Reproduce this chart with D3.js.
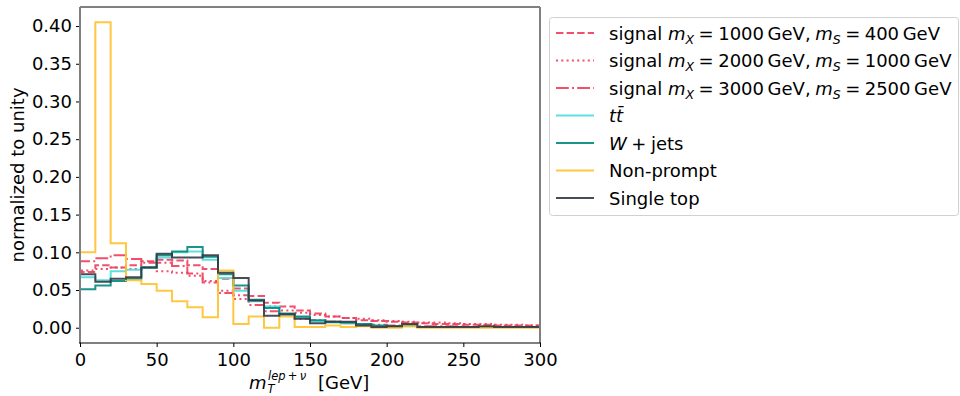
<!DOCTYPE html>
<html>
<head>
<meta charset="utf-8">
<script src="https://cdn.jsdelivr.net/npm/d3@7"></script>
<style>
  body { margin: 0; background: #fff; }
  svg { font-family: "DejaVu Sans", sans-serif; }
</style>
</head>
<body>
<div id="chart"></div>
<script>
(function () {

    "use strict";

    // bin edges (GeV), 10 GeV wide
    var binEdges = d3.range(0, 310, 10);

    var sig1000 = [0.074, 0.083, 0.080, 0.083, 0.088, 0.090, 0.089, 0.083, 0.078, 0.065,
                   0.052, 0.042, 0.033, 0.028, 0.023, 0.019, 0.015, 0.013, 0.010, 0.009,
                   0.008, 0.007, 0.006, 0.005, 0.005, 0.004, 0.004, 0.003, 0.003, 0.003];
    var sig2000 = [0.076, 0.078, 0.080, 0.078, 0.080, 0.075, 0.073, 0.069, 0.062, 0.049,
                   0.038, 0.036, 0.028, 0.023, 0.020, 0.017, 0.015, 0.013, 0.012, 0.010,
                   0.009, 0.008, 0.007, 0.007, 0.006, 0.005, 0.005, 0.004, 0.004, 0.003];
    var sig3000 = [0.088, 0.092, 0.096, 0.091, 0.086, 0.086, 0.082, 0.072, 0.060, 0.046,
                   0.043, 0.030, 0.022, 0.018, 0.012, 0.010, 0.008, 0.006, 0.005, 0.004,
                   0.003, 0.003, 0.002, 0.002, 0.002, 0.001, 0.001, 0.001, 0.001, 0.001];
    var ttbar   = [0.067, 0.063, 0.075, 0.077, 0.080, 0.093, 0.100, 0.101, 0.090, 0.066,
                   0.049, 0.035, 0.028, 0.017, 0.014, 0.009, 0.007, 0.006, 0.004, 0.002,
                   0.002, 0.002, 0.001, 0.001, 0.001, 0.001, 0.001, 0.001, 0.001, 0.001];
    var wjets   = [0.051, 0.056, 0.062, 0.065, 0.080, 0.096, 0.101, 0.107, 0.094, 0.071,
                   0.056, 0.037, 0.026, 0.019, 0.015, 0.010, 0.008, 0.007, 0.005, 0.003,
                   0.002, 0.003, 0.001, 0.001, 0.001, 0.001, 0.001, 0.001, 0.001, 0.001];
    var nonprompt = [0.100, 0.405, 0.112, 0.063, 0.058, 0.049, 0.035, 0.027, 0.014, 0.076,
                     0.005, 0.015, 0.000, 0.015, 0.001, 0.001, 0.003, 0.001, 0.002, 0.000,
                     0.000, 0.002, 0.000, 0.000, 0.000, 0.000, 0.000, 0.000, 0.000, 0.000];
    var singletop = [0.071, 0.061, 0.065, 0.067, 0.080, 0.098, 0.093, 0.093, 0.096, 0.073,
                     0.066, 0.036, 0.016, 0.018, 0.012, 0.006, 0.008, 0.008, 0.003, 0.001,
                     0.002, 0.005, 0.001, 0.001, 0.001, 0.001, 0.002, 0.001, 0.001, 0.001];

    var xTicks = [0, 50, 100, 150, 200, 250, 300];
    var yTicks = [0, 0.05, 0.10, 0.15, 0.20, 0.25, 0.30, 0.35, 0.40];

    var red = "#f03c5c";
    var series = [
        {name: "sig1000", values: sig1000, color: red, dash: "7.4,3.2", mx: "1000", ms: "400"},
        {name: "sig2000", values: sig2000, color: red, dash: "2,3.3", mx: "2000", ms: "1000"},
        {name: "sig3000", values: sig3000, color: red, dash: "12.8,3.2,2,3.2", mx: "3000", ms: "2500"},
        {name: "ttbar", values: ttbar, color: "#4fdcdc"},
        {name: "wjets", values: wjets, color: "#00897f"},
        {name: "nonprompt", values: nonprompt, color: "#ffc12e"},
        {name: "singletop", values: singletop, color: "#333a44"}
    ];

    var W = 960, H = 396,
        left = 80, right = 540, top = 7, bottom = 343;

    var svg = d3.select("#chart").append("svg")
        .attr("width", W)
        .attr("height", H);

    var x = d3.scaleLinear().domain([0, 300]).range([left, right]);
    var y = d3.scaleLinear().domain([-0.02025, 0.42525]).range([bottom, top]);

    svg.append("clipPath").attr("id", "plotclip")
        .append("rect")
        .attr("x", left).attr("y", top)
        .attr("width", right - left).attr("height", bottom - top);

    var line = d3.line()
        .x(function (d) { return x(d[0]); })
        .y(function (d) { return y(d[1]); })
        .curve(d3.curveStepAfter);

    function stepPoints(values) {
        var pts = [[binEdges[0], 0]];
        values.forEach(function (v, i) { pts.push([binEdges[i], v]); });
        pts.push([binEdges[binEdges.length - 1], values[values.length - 1]]);
        pts.push([binEdges[binEdges.length - 1], 0]);
        return pts;
    }

    svg.append("g")
        .attr("clip-path", "url(#plotclip)")
        .selectAll("path")
        .data(series)
        .enter()
        .append("path")
        .attr("d", function (d) { return line(stepPoints(d.values)); })
        .attr("fill", "none")
        .attr("stroke", function (d) { return d.color; })
        .attr("stroke-width", 2)
        .attr("stroke-opacity", 0.9)
        .attr("stroke-dasharray", function (d) { return d.dash || null; });

    // axes
    var xAxis = svg.append("g")
        .attr("transform", "translate(0," + bottom + ")")
        .call(d3.axisBottom(x).tickValues(xTicks).tickSize(4).tickPadding(3).tickFormat(d3.format("d")));
    var yAxis = svg.append("g")
        .attr("transform", "translate(" + left + ",0)")
        .call(d3.axisLeft(y).tickValues(yTicks).tickSize(4).tickPadding(4).tickFormat(d3.format(".2f")));

    [xAxis, yAxis].forEach(function (a) {
        a.select(".domain").remove();
        a.selectAll("text")
            .attr("font-family", "DejaVu Sans, sans-serif")
            .attr("font-size", 18)
            .attr("fill", "#000");
        a.selectAll("line").attr("stroke", "#000").attr("stroke-width", 1);
    });
    xAxis.selectAll("text").attr("dy", "0.9em");

    // spines
    var spines = svg.append("g").attr("fill", "none");
    spines.append("line").attr("x1", left).attr("x2", left).attr("y1", top).attr("y2", bottom)
        .attr("stroke", "#808080").attr("stroke-width", 2);
    spines.append("line").attr("x1", right).attr("x2", right).attr("y1", top).attr("y2", bottom)
        .attr("stroke", "#808080").attr("stroke-width", 2);
    spines.append("line").attr("x1", left).attr("x2", right).attr("y1", top).attr("y2", top)
        .attr("stroke", "#808080").attr("stroke-width", 2);
    spines.append("line").attr("x1", left - 1).attr("x2", right + 1).attr("y1", bottom).attr("y2", bottom)
        .attr("stroke", "#000").attr("stroke-width", 1.2);

    // y label
    svg.append("text")
        .attr("transform", "translate(24," + ((top + bottom) / 2) + ") rotate(-90)")
        .attr("text-anchor", "middle")
        .attr("font-size", 18)
        .text("normalized to unity");

    // x label: m_T^{lep+nu} [GeV], built as separate pieces
    var xl = svg.append("g").attr("font-size", 18);
    xl.append("text").attr("x", 249).attr("y", 389).attr("font-style", "italic").text("m");
    xl.append("text").attr("x", 267.5).attr("y", 392.5).attr("font-size", 11.5)
        .attr("font-style", "italic").text("T");
    xl.append("text").attr("x", 268).attr("y", 379.5).attr("font-size", 11.5)
        .attr("font-style", "italic").text("lep\u2009+\u2009\u03bd");
    xl.append("text").attr("x", 318).attr("y", 389).text("[GeV]");

    // legend
    var lg = svg.append("g");
    lg.append("rect")
        .attr("x", 549.5).attr("y", 17.5)
        .attr("width", 409).attr("height", 198)
        .attr("rx", 3)
        .attr("fill", "#fff").attr("fill-opacity", 0.8)
        .attr("stroke", "#d0d0d0");

    var entries = lg.selectAll("g.entry")
        .data(series)
        .enter()
        .append("g")
        .attr("class", "entry")
        .attr("transform", function (d, i) {
            return "translate(0," + (33 + i * 27.5) + ")";
        });

    entries.append("line")
        .attr("x1", 556).attr("x2", 594)
        .attr("stroke", function (d) { return d.color; })
        .attr("stroke-width", 2)
        .attr("stroke-opacity", 0.9)
        .attr("stroke-dasharray", function (d) { return d.dash || null; });

    var labels = {
        nonprompt: "Non-prompt",
        singletop: "Single top"
    };

    entries.each(function (d) {
        var t = d3.select(this).append("text")
            .attr("x", 609).attr("y", 6.5)
            .attr("font-size", 18);
        if (d.mx) {
            t.append("tspan").text("signal ");
            t.append("tspan").attr("font-style", "italic").text("m");
            t.append("tspan").attr("font-style", "italic").attr("font-size", 12.5).attr("dy", 4).text("X");
            t.append("tspan").attr("dy", -4).text("\u2005=\u2005" + d.mx + "\u2009GeV,\u2005");
            t.append("tspan").attr("font-style", "italic").text("m");
            t.append("tspan").attr("font-style", "italic").attr("font-size", 12.5).attr("dy", 4).text("S");
            t.append("tspan").attr("dy", -4).text("\u2005=\u2005" + d.ms + "\u2009GeV");
        } else if (d.name === "ttbar") {
            t.append("tspan").attr("font-style", "italic").text("t");
            t.append("tspan").attr("font-style", "italic").text("t\u0304");
        } else if (d.name === "wjets") {
            t.append("tspan").attr("font-style", "italic").text("W");
            t.append("tspan").text("\u2005+\u2005jets");
        } else {
            t.text(labels[d.name]);
        }
    });

}());
</script>
</body>
</html>
